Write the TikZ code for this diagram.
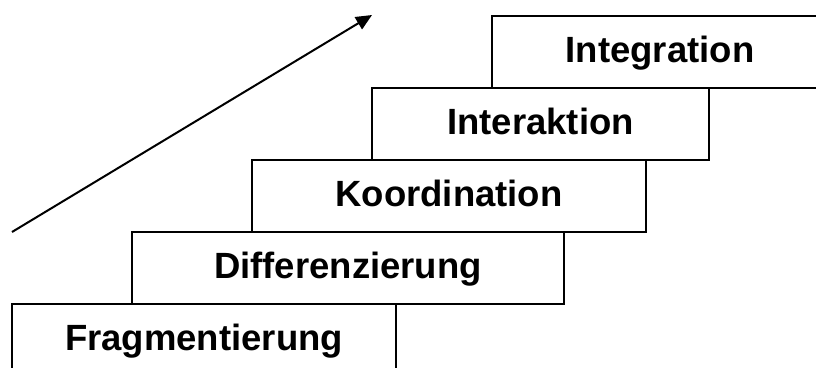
\documentclass[tikz,border=0pt]{standalone}
\usepackage{fontspec}
\setmainfont{Liberation Sans}
\usetikzlibrary{arrows.meta}
\begin{document}
\begin{tikzpicture}[x=1pt,y=-1pt,
  stepbox/.style={draw=black, line width=2pt, fill=white, inner sep=0pt,
    minimum height=72pt, text height=24pt, text depth=4pt,
    font=\fontsize{36.5}{40}\selectfont\bfseries},
  risearrow/.style={line width=2pt, -{Triangle[length=16pt,width=14pt]}}]
\useasboundingbox (0,0) rectangle (816,367);
\clip (0,0) rectangle (816,367);
\node[stepbox, minimum width=384pt] (frag) at (204,340) {Fragmentierung};
\node[stepbox, minimum width=432pt] (diff) at (348,268) {Differenzierung};
\node[stepbox, minimum width=394pt] (koord) at (449,196) {Koordination};
\node[stepbox, minimum width=337pt] (inter) at (540.5,124) {Interaktion};
\node[stepbox, minimum width=336pt] (integ) at (660,52) {Integration};
\coordinate (astart) at (12,232);
\coordinate (aend) at (372,15);
\draw[risearrow] (astart) -- (aend);
\end{tikzpicture}
\end{document}
